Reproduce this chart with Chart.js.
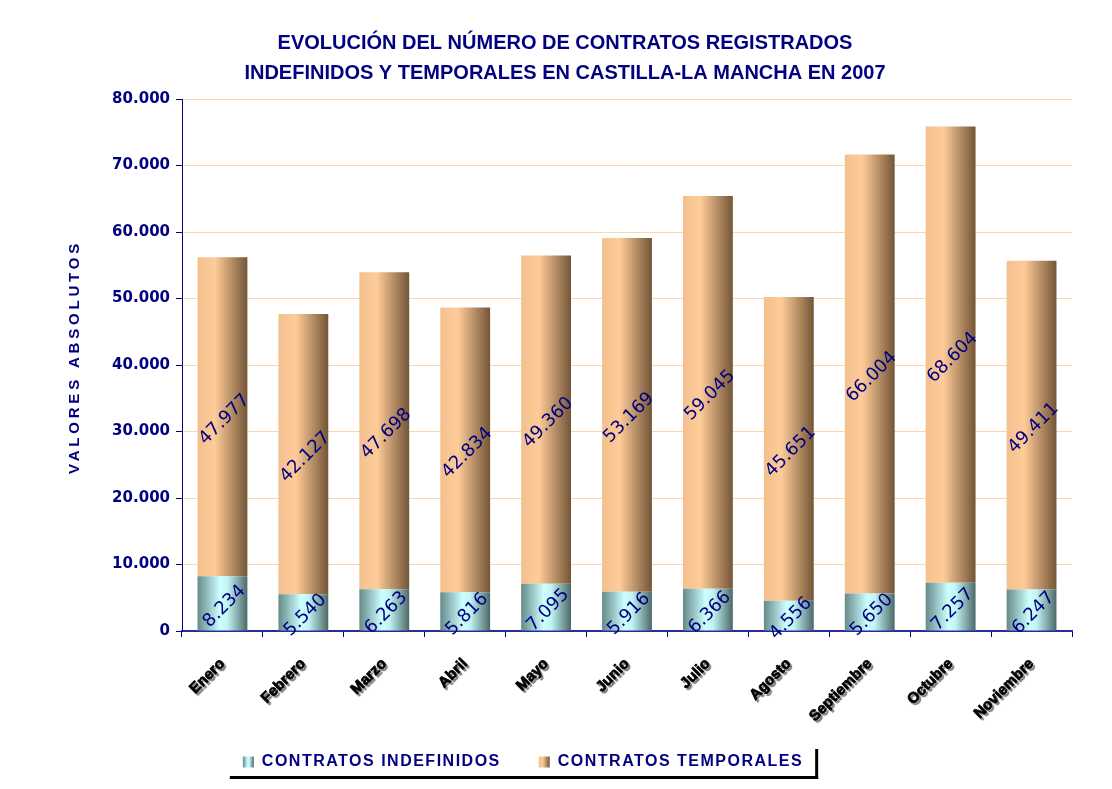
<!DOCTYPE html>
<html>
<head>
<meta charset="utf-8">
<script src="https://cdn.jsdelivr.net/npm/chart.js@4.4.1/dist/chart.umd.min.js"></script>
<style>
  html, body { margin: 0; padding: 0; background: #fff; }
</style>
</head>
<body>
<canvas id="myChart" width="1112" height="789"></canvas>
<script>
const meses = ['Enero', 'Febrero', 'Marzo', 'Abril', 'Mayo', 'Junio', 'Julio', 'Agosto', 'Septiembre', 'Octubre', 'Noviembre']
const indefinidos = [8234, 5540, 6263, 5816, 7095, 5916, 6366, 4556, 5650, 7257, 6247]
const temporales = [47977, 42127, 47698, 42834, 49360, 53169, 59045, 45651, 66004, 68604, 49411]
const yMax = 80000
const yStep = 10000

const NAVY = '#000080'
const CAT = 0.8
const BAR = 0.77

const GRAD_INDEF = [[0, '#658a8a'], [0.45, '#ccffff'], [0.6, '#c2f4f4'], [1, '#4c6868']]
const GRAD_TEMP = [[0, '#f2c08e'], [0.35, '#ffcc99'], [1, '#735536']]

const fmt = (n) => String(n).replace(/\B(?=(\d{3})+(?!\d))/g, '.')

const makeGradient = (c, x0, x1, stops) => {
  const g = c.createLinearGradient(x0, 0, x1, 0)
  stops.forEach(([o, col]) => g.addColorStop(o, col))
  return g
}

// degradado horizontal por barra, como en el Excel original
const barGradient = (stops, fallback) => (ctx) => {
  const chart = ctx.chart
  const xs = chart.scales.x
  if (!xs || ctx.dataIndex === undefined) return fallback
  const w = xs.width / meses.length * CAT * BAR
  const cx = xs.getPixelForValue(ctx.dataIndex)
  if (!isFinite(cx) || !isFinite(w) || w <= 0) return fallback
  return makeGradient(chart.ctx, cx - w / 2, cx + w / 2, stops)
}

const spaced = (obj, name, spacing) => {
  if (!obj || obj[name]._spaced) return
  const orig = obj[name]
  obj[name] = function (...args) {
    const c = this.ctx
    const prev = c.letterSpacing
    c.letterSpacing = spacing
    const r = orig.apply(this, args)
    c.letterSpacing = prev
    return r
  }
  obj[name]._spaced = true
}

const etiquetas = {
  id: 'etiquetas',
  afterInit(chart) {
    spaced(chart.legend, 'fit', '1.5px')
    spaced(chart.legend, 'draw', '1.5px')
  },
  afterUpdate(chart) {
    const lg = chart.legend
    const boxes = lg.legendHitBoxes
    if (!boxes.length) return
    const last = boxes[boxes.length - 1]
    const shift = (boxes[0].left + last.left + last.width) / 2 - 523
    lg.left -= shift
    lg.right -= shift
    boxes.forEach((b) => { b.left -= shift })
    const grads = [GRAD_INDEF, GRAD_TEMP]
    const bw = lg.options.labels.boxWidth
    lg.legendItems.forEach((item, i) => {
      const b = boxes[i]
      item.fillStyle = makeGradient(chart.ctx, b.left, b.left + bw, grads[i])
      item.strokeStyle = 'rgba(0,0,0,0)'
      item.lineWidth = 0
    })
  },
  beforeDraw(chart) {
    const xs = chart.scales.x
    if (!xs.drawLabels._sombra) {
      const orig = xs.drawLabels
      xs.drawLabels = function (area) {
        const c = this.ctx
        const bottom = this.bottom
        this.bottom = this.chart.height // que no se recorten las etiquetas giradas
        c.save()
        c.shadowColor = 'rgba(0,0,0,0.45)'
        c.shadowOffsetX = 2
        c.shadowOffsetY = 2
        c.shadowBlur = 1
        orig.call(this, area)
        c.restore()
        this.bottom = bottom
      }
      xs.drawLabels._sombra = true
    }
    const ys = chart.scales.y
    if (!ys.drawTitle._spaced) {
      const orig = ys.drawTitle
      ys.drawTitle = function (...args) {
        const c = this.ctx
        c.save()
        c.letterSpacing = '3.8px'
        c.translate(0, -8)
        orig.apply(this, args)
        c.restore()
      }
      ys.drawTitle._spaced = true
    }
  },
  afterDatasetsDraw(chart) {
    const ctx = chart.ctx
    ctx.save()
    ctx.font = '18px "DejaVu Sans", Verdana, sans-serif'
    ctx.fillStyle = NAVY
    ctx.textAlign = 'center'
    ctx.textBaseline = 'middle'
    chart.data.datasets.forEach((ds, i) => {
      chart.getDatasetMeta(i).data.forEach((bar, j) => {
        ctx.save()
        ctx.translate(bar.x + 2, (bar.y + bar.base) / 2 + 3)
        ctx.rotate(-Math.PI / 4)
        ctx.fillText(fmt(ds.data[j]), 0, 0)
        ctx.restore()
      })
    })
    ctx.restore()
  },
  afterDraw(chart) {
    // sombra negra del recuadro de la leyenda
    const boxes = chart.legend.legendHitBoxes
    if (!boxes.length) return
    const ctx = chart.ctx
    const first = boxes[0]
    const last = boxes[boxes.length - 1]
    const left = first.left - 13
    const right = last.left + last.width + 12
    const cy = first.top + first.height / 2
    ctx.save()
    ctx.fillStyle = '#000'
    ctx.fillRect(left, cy + 14, right - left + 3, 3)
    ctx.fillRect(right, cy - 13, 3, 30)
    ctx.restore()
  }
}

new Chart(document.getElementById('myChart'), {
  type: 'bar',
  data: {
    labels: meses,
    datasets: [{
      label: 'CONTRATOS INDEFINIDOS',
      data: indefinidos,
      backgroundColor: barGradient(GRAD_INDEF, '#a6d4d4'),
      categoryPercentage: CAT,
      barPercentage: BAR
    }, {
      label: 'CONTRATOS TEMPORALES',
      data: temporales,
      backgroundColor: barGradient(GRAD_TEMP, '#dcaa78'),
      categoryPercentage: CAT,
      barPercentage: BAR
    }]
  },
  options: {
    responsive: false,
    animation: false,
    layout: { padding: { left: 58, right: 40, top: 0, bottom: 9 } },
    plugins: {
      title: {
        display: true,
        text: ['EVOLUCIÓN DEL NÚMERO DE CONTRATOS REGISTRADOS', 'INDEFINIDOS Y TEMPORALES EN CASTILLA-LA MANCHA EN 2007'],
        color: NAVY,
        font: { family: '"Liberation Sans", Arial, sans-serif', size: 20, weight: 'bold', lineHeight: 1.5 },
        padding: { top: 28, bottom: 11 }
      },
      legend: {
        position: 'bottom',
        labels: {
          color: NAVY,
          font: { family: '"Liberation Sans", Arial, sans-serif', size: 16, weight: 'bold' },
          boxWidth: 11,
          boxHeight: 11,
          padding: 38
        }
      },
      tooltip: { enabled: false }
    },
    scales: {
      x: {
        stacked: true,
        afterFit: (s) => { s.height = 85 },
        grid: { drawOnChartArea: false, tickColor: NAVY, tickLength: 6 },
        border: { color: '#2a2a9a', width: 2 },
        ticks: {
          color: '#000',
          font: { family: '"Liberation Sans", Arial, sans-serif', size: 15, weight: 'bold' },
          textStrokeColor: '#000',
          textStrokeWidth: 0.7,
          minRotation: 45,
          maxRotation: 45,
          padding: 18
        }
      },
      y: {
        stacked: true,
        min: 0,
        max: yMax,
        afterFit: (s) => { s.width = 124 },
        grid: { color: '#fcd5a8', tickColor: NAVY, tickLength: 6 },
        border: { color: NAVY, width: 1 },
        ticks: {
          stepSize: yStep,
          color: NAVY,
          padding: 6,
          font: { family: '"DejaVu Sans", Verdana, sans-serif', size: 15, weight: 'bold' },
          callback: (v) => fmt(v)
        },
        title: {
          display: true,
          text: 'VALORES ABSOLUTOS',
          color: NAVY,
          font: { family: '"Liberation Sans", Arial, sans-serif', size: 15, weight: 'bold' },
          padding: { top: 8, bottom: 0 }
        }
      }
    }
  },
  plugins: [etiquetas]
})
</script>
</body>
</html>
